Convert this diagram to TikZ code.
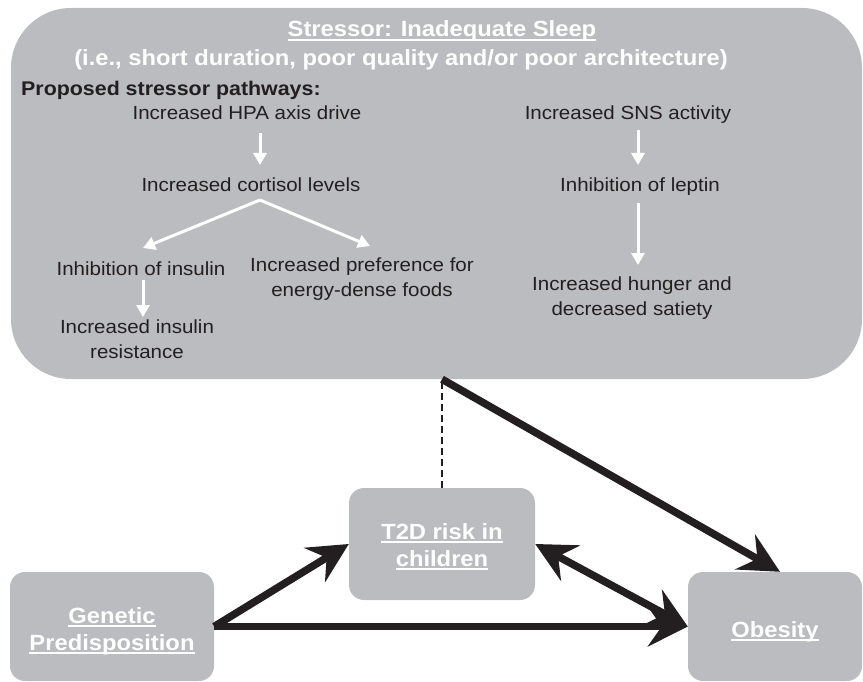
\documentclass[tikz,border=0pt]{standalone}
\usepackage{fontspec}
\setmainfont{Liberation Sans}[FakeStretch=1.08]
\usetikzlibrary{arrows.meta,calc}
\definecolor{boxgrey}{RGB}{187,188,191}
\definecolor{ink}{RGB}{35,31,32}
\newcommand{\myul}[1]{\setbox0\hbox{#1}\rlap{\color{white}\rule[-3.6pt]{\wd0}{1.8pt}}\box0}
\begin{document}
\begin{tikzpicture}[x=1pt,y=-1pt,
  greybox/.style={fill=boxgrey, draw=none, rounded corners=15pt, inner sep=0},
  bodytext/.style={text=ink, font=\fontsize{19}{24.5}\selectfont, inner sep=0, anchor=base, align=center},
  labeltext/.style={text=white, font=\fontsize{22}{27}\selectfont\bfseries, inner sep=0, anchor=base, align=center},
  warrow/.style={white, line width=3pt, -{Triangle[length=12pt,width=13pt]}},
  barrow/.style={ink, line width=7.5pt, -{Stealth[length=40pt,width=40pt,inset=14pt]}},
  bbarrow/.style={ink, line width=7.5pt, {Stealth[length=40pt,width=40pt,inset=14pt]}-{Stealth[length=40pt,width=40pt,inset=14pt]}},
  dashline/.style={ink, line width=2.2pt, dash pattern=on 7pt off 4pt}
]
\useasboundingbox (0,0) rectangle (863,682);
% big stressor box
\node[greybox, rounded corners=60pt, minimum width=851pt, minimum height=371pt] (sleep) at (436.5,193.5) {};
\node[labeltext] (title1) at (442,37) {\myul{Stressor: Inadequate Sleep}};
\node[labeltext] (title2) at (401,66) {(i.e., short duration, poor quality and/or poor architecture)};
\node[bodytext, font=\fontsize{19.8}{22}\selectfont\bfseries, anchor=base west] (proposed) at (21,96) {Proposed stressor pathways:};
% left pathway (multi-line nodes: base = last line baseline)
\node[bodytext] (hpa) at (247,120) {Increased HPA axis drive};
\node[bodytext] (cort) at (251,192) {Increased cortisol levels};
\node[bodytext] (inhins) at (141,275) {Inhibition of insulin};
\node[bodytext] (insres) at (137,358) {Increased insulin\\resistance};
\node[bodytext] (pref) at (362,296) {Increased preference for\\energy-dense foods};
% right pathway
\node[bodytext] (sns) at (628,120) {Increased SNS activity};
\node[bodytext] (leptin) at (640,192) {Inhibition of leptin};
\node[bodytext] (hunger) at (632,315) {Increased hunger and\\decreased satiety};
% white arrows
\draw[warrow] ($(hpa.base)+(13,13)$) -- ($(cort.base)+(9,-27)$);
\draw[warrow] ($(cort.base)+(9,8)$) -- ($(inhins.base)+(2,-27)$);
\draw[warrow] ($(cort.base)+(9,8)$) -- ($(pref.base)+(8,-50)$);
\draw[warrow] ($(inhins.base)+(2,5)$) -- ($(insres.base)+(6,-41)$);
\draw[warrow] ($(sns.base)+(10,10)$) -- ($(leptin.base)+(-2,-27)$);
\draw[warrow] ($(leptin.base)+(-2,11)$) -- ($(hunger.base)+(6,-50)$);
% bottom boxes
\node[greybox, minimum width=204pt, minimum height=109pt] (gen) at (112,626.5) {};
\node[labeltext] (genlab) at (112,650) {\myul{Genetic}\\\myul{Predisposition}};
\node[greybox, minimum width=186pt, minimum height=112pt] (t2d) at (442,544) {};
\node[labeltext] (t2dlab) at (442,566) {\myul{T2D risk in}\\\myul{children}};
\node[greybox, minimum width=174pt, minimum height=109pt] (obe) at (775,626.5) {};
\node[labeltext] (obelab) at (775,637) {\myul{Obesity}};
% connectors
\coordinate (src) at (t2d.north |- sleep.south);
\draw[dashline] (t2d.north) -- (src);
\draw[barrow] (src) -- ($(obe.north)+(5,0)$);
\draw[barrow] (gen.east) -- (t2d.west);
\draw[barrow] (gen.east) -- (obe.west);
\draw[bbarrow] (t2d.east) -- (obe.west);
\end{tikzpicture}
\end{document}
